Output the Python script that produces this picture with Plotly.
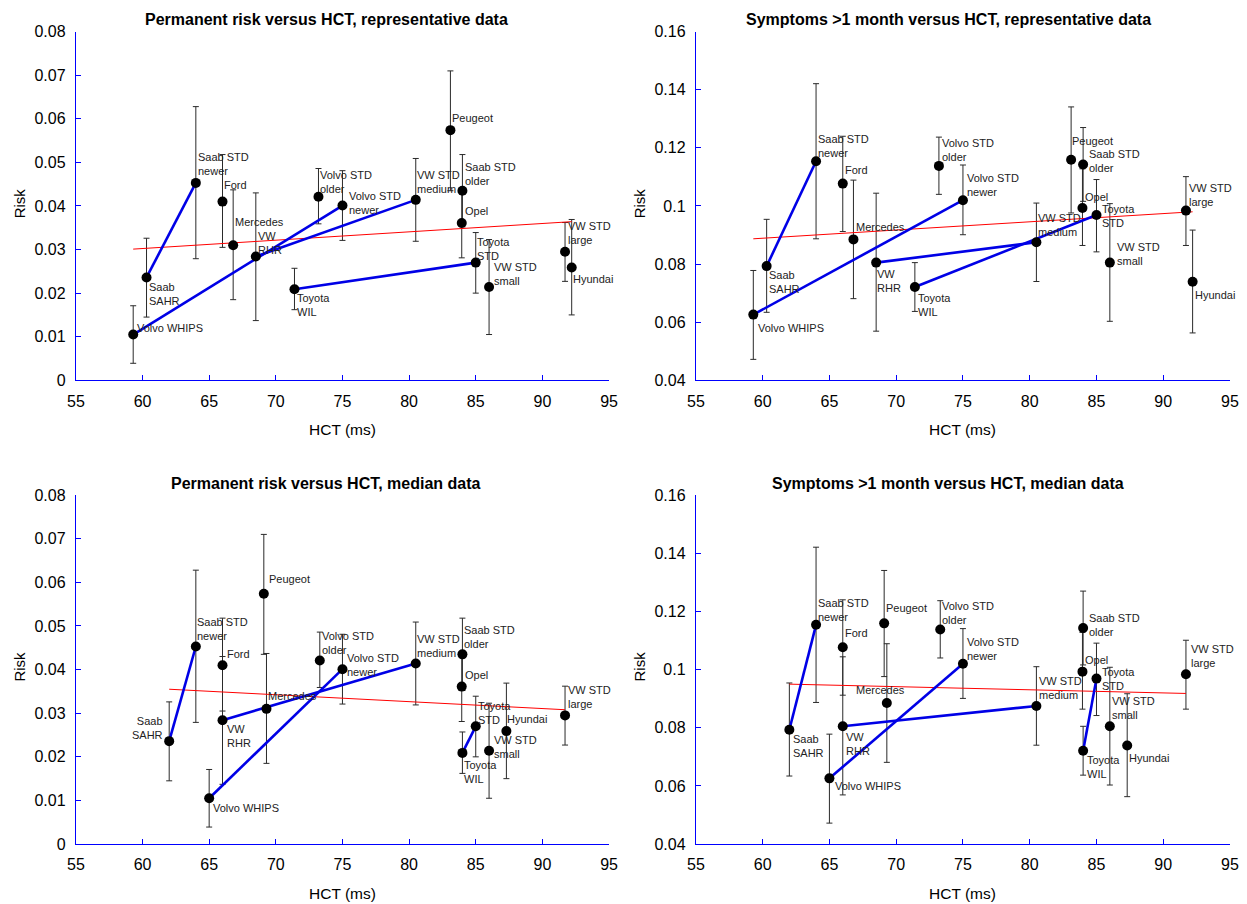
import plotly.graph_objects as go

# ---------------- data ----------------
cars = ["Volvo WHIPS", "Saab SAHR", "Saab STD newer", "Ford", "Mercedes", "VW RHR",
        "Toyota WIL", "Volvo STD older", "Volvo STD newer", "VW STD medium", "Peugeot",
        "Saab STD older", "Opel", "Toyota STD", "VW STD small", "VW STD large", "Hyundai"]
labels = ["Volvo WHIPS", "Saab<br>SAHR", "Saab STD<br>newer", "Ford", "Mercedes", "VW<br>RHR",
          "Toyota<br>WIL", "Volvo STD<br>older", "Volvo STD<br>newer", "VW STD<br>medium", "Peugeot",
          "Saab STD<br>older", "Opel", "Toyota<br>STD", "VW STD<br>small", "VW STD<br>large", "Hyundai"]

hct_rep = [59.3, 60.3, 64.0, 66.0, 66.8, 68.5, 71.4, 73.2, 75.0, 80.5, 83.1, 84.0, 83.95, 85.0, 86.0, 91.7, 92.2]
hct_med = [65.0, 62.0, 64.0, 66.0, 69.3, 66.0, 84.0, 73.3, 75.0, 80.5, 69.1, 84.0, 83.95, 85.0, 86.0, 91.7, 87.3]

perm_risk = [0.0105, 0.0236, 0.0453, 0.0410, 0.0310, 0.0284, 0.0209, 0.0421, 0.0401, 0.0414, 0.0574,
             0.0435, 0.0361, 0.0270, 0.0214, 0.0295, 0.0259]
perm_lo = [0.0039, 0.0145, 0.0279, 0.0305, 0.0185, 0.0137, 0.0162, 0.0359, 0.0321, 0.0319, 0.0435,
           0.0352, 0.0281, 0.0200, 0.0105, 0.0227, 0.0150]
perm_hi = [0.0171, 0.0326, 0.0628, 0.0518, 0.0437, 0.0430, 0.0257, 0.0486, 0.0481, 0.0509, 0.0710,
           0.0518, 0.0441, 0.0339, 0.0323, 0.0362, 0.0369]

sympt_risk = [0.0626, 0.0793, 0.1154, 0.1077, 0.0885, 0.0805, 0.0721, 0.1138, 0.1020, 0.0875, 0.1159,
              0.1143, 0.0993, 0.0969, 0.0805, 0.0984, 0.0739]
sympt_lo = [0.0472, 0.0634, 0.0887, 0.0912, 0.0681, 0.0569, 0.0637, 0.1040, 0.0901, 0.0740, 0.0976,
            0.1016, 0.0864, 0.0842, 0.0603, 0.0864, 0.0563]
sympt_hi = [0.0778, 0.0954, 0.1421, 0.1240, 0.1089, 0.1044, 0.0805, 0.1237, 0.1141, 0.1010, 0.1341,
            0.1270, 0.1128, 0.1091, 0.1008, 0.1101, 0.0917]

pairs = [("Saab SAHR", "Saab STD newer"), ("Volvo WHIPS", "Volvo STD newer"),
         ("VW RHR", "VW STD medium"), ("Toyota WIL", "Toyota STD")]

trend_perm_rep_x = [59.3, 92.2]
trend_perm_rep_y = [0.0301, 0.0364]
trend_sympt_rep_x = [59.3, 92.2]
trend_sympt_rep_y = [0.0887, 0.0980]
trend_perm_med_x = [62.0, 91.7]
trend_perm_med_y = [0.0355, 0.0308]
trend_sympt_med_x = [62.0, 91.7]
trend_sympt_med_y = [0.0950, 0.0918]

x_ticks = [55, 60, 65, 70, 75, 80, 85, 90, 95]
perm_ticks = [0, 0.01, 0.02, 0.03, 0.04, 0.05, 0.06, 0.07, 0.08]
perm_ticktext = ["0", "0.01", "0.02", "0.03", "0.04", "0.05", "0.06", "0.07", "0.08"]
sympt_ticks = [0.04, 0.06, 0.08, 0.10, 0.12, 0.14, 0.16]
sympt_ticktext = ["0.04", "0.06", "0.08", "0.1", "0.12", "0.14", "0.16"]

titles = ["Permanent risk versus HCT, representative data",
          "Symptoms >1 month versus HCT, representative data",
          "Permanent risk versus HCT, median data",
          "Symptoms >1 month versus HCT, median data"]

# ---------------- label placement (pixel offsets: dx, first-line centre dy) ----------------
label_off = [
    [(4, -6), (2.6, 10.6), (2, -24.7), (1.6, -16), (2.3, -21.7), (1.7, -19.7), (3, 9.6), (2, -21),
     (6.6, -9), (1, -24), (1.3, -11.3), (2.3, -23), (3, -11.3), (1.3, -20), (5, -18.6), (2.7, -24.3), (1.3, 12.3)],
    [(4.7, 14), (2.3, 10), (2.3, -21), (2, -12.7), (2.3, -11.7), (1.3, 12.3), (3, 12), (3, -21.7),
     (3.7, -21), (1.7, -23.7), (1, -17.7), (6, -9), (3, -10.3), (5.7, -5.3), (7, -14.7), (3.3, -22), (2, 14.3)],
    [(4, 10.7), (-6.3, -18.7), (1, -23.3), (4, -10), (2, -11.4), (4.7, 9.4), (1.7, 13.3), (1.7, -23),
     (5, -10.3), (1, -24), (5.4, -13.4), (1.4, -23), (3, -11), (2, -19.7), (5, -9.7), (2.7, -24.7), (1, -11.4)],
    [(5.7, 9), (4, 10.7), (2.3, -21), (2, -13), (-31, -11.7), (3.6, 11.7), (3.4, 10.3), (1.7, -22),
     (3.7, -21), (2.3, -23.7), (1.4, -14), (5.4, -9), (3, -10.3), (5.7, -6), (1.7, -24.7), (4.7, -24.3), (2.3, 14)],
]
right_anchor = {(2, "Saab SAHR")}

FONT = "Liberation Sans, Arial, sans-serif"
W, H = 1247, 904
# effective drawing area observed in the browser (page margin of 8 px)
OFF, PW, PH = 8, 1231, 888


def pxx(px):
    return (px - OFF) / PW


def pxy(py):
    return 1 - (py - OFF) / PH


col_x = [(75, 609), (696, 1231)]
row_y = [(31.7, 380.7), (495.7, 845.0)]

panels = [
    dict(hct=hct_rep, risk=perm_risk, lo=perm_lo, hi=perm_hi, tx=trend_perm_rep_x, ty=trend_perm_rep_y,
         rng=[0, 0.08], tv=perm_ticks, tt=perm_ticktext, col=0, row=0),
    dict(hct=hct_rep, risk=sympt_risk, lo=sympt_lo, hi=sympt_hi, tx=trend_sympt_rep_x, ty=trend_sympt_rep_y,
         rng=[0.04, 0.16], tv=sympt_ticks, tt=sympt_ticktext, col=1, row=0),
    dict(hct=hct_med, risk=perm_risk, lo=perm_lo, hi=perm_hi, tx=trend_perm_med_x, ty=trend_perm_med_y,
         rng=[0, 0.08], tv=perm_ticks, tt=perm_ticktext, col=0, row=1),
    dict(hct=hct_med, risk=sympt_risk, lo=sympt_lo, hi=sympt_hi, tx=trend_sympt_med_x, ty=trend_sympt_med_y,
         rng=[0.04, 0.16], tv=sympt_ticks, tt=sympt_ticktext, col=1, row=1),
]

fig = go.Figure()
annotations = []
layout = dict(width=W, height=H, margin=dict(l=0, r=0, t=0, b=0), plot_bgcolor="white",
              paper_bgcolor="white", showlegend=False, font=dict(family=FONT, color="black"))

for i, p in enumerate(panels):
    sfx = "" if i == 0 else str(i + 1)
    xa, ya = "x" + sfx, "y" + sfx
    x0, x1 = col_x[p["col"]]
    y0, y1 = row_y[p["row"]]
    layout["xaxis" + sfx] = dict(domain=[pxx(x0), pxx(x1)], range=[55, 95], tickvals=x_ticks,
                                 showline=True, linecolor="#0000ff", linewidth=1.3, ticks="inside",
                                 ticklen=5, tickcolor="#0000ff", showgrid=False, zeroline=False,
                                 tickfont=dict(size=16, family=FONT), anchor=ya, ticklabelstandoff=6)
    layout["yaxis" + sfx] = dict(domain=[pxy(y1), pxy(y0)], range=p["rng"], tickvals=p["tv"],
                                 ticktext=p["tt"], showline=True, linecolor="#0000ff", linewidth=1.3,
                                 ticks="inside", ticklen=5, tickcolor="#0000ff", showgrid=False,
                                 zeroline=False, tickfont=dict(size=16, family=FONT), anchor=xa,
                                 ticklabelstandoff=6)
    err_plus = [h - r for h, r in zip(p["hi"], p["risk"])]
    err_minus = [r - l for r, l in zip(p["risk"], p["lo"])]
    # error bars
    fig.add_trace(go.Scatter(x=p["hct"], y=p["risk"], mode="markers", xaxis=xa, yaxis=ya,
                             marker=dict(size=1, color="rgba(0,0,0,0)"),
                             error_y=dict(type="data", symmetric=False, array=err_plus,
                                          arrayminus=err_minus, color="#2a2a2a", thickness=1, width=3)))
    # trend line
    fig.add_trace(go.Scatter(x=p["tx"], y=p["ty"], mode="lines", xaxis=xa, yaxis=ya,
                             line=dict(color="#ff0000", width=1)))
    # connecting lines
    for a, b in pairs:
        ia, ib = cars.index(a), cars.index(b)
        fig.add_trace(go.Scatter(x=[p["hct"][ia], p["hct"][ib]], y=[p["risk"][ia], p["risk"][ib]],
                                 mode="lines", xaxis=xa, yaxis=ya,
                                 line=dict(color="#0000e6", width=2.6)))
    # markers
    fig.add_trace(go.Scatter(x=p["hct"], y=p["risk"], mode="markers", xaxis=xa, yaxis=ya,
                             marker=dict(size=10, color="black")))
    # point labels
    for k, name in enumerate(cars):
        dx, dc = label_off[i][k]
        ra = (i, name) in right_anchor
        annotations.append(dict(x=p["hct"][k], y=p["risk"][k], xref=xa, yref=ya, text=labels[k],
                                showarrow=False, xanchor="right" if ra else "left", yanchor="top",
                                align="right" if ra else "left", xshift=dx, yshift=7 - dc,
                                borderpad=0, borderwidth=0,
                                font=dict(size=11, family=FONT, color="#222222")))
    # title
    cx = [326, 949][p["col"]] if p["row"] == 0 else [325.5, 948.5][p["col"]]
    cy = [20, 484][p["row"]]
    annotations.append(dict(x=pxx(cx), y=pxy(cy), xref="paper", yref="paper", text="<b>" + titles[i] + "</b>",
                            showarrow=False, xanchor="center", yanchor="middle",
                            font=dict(size=16, family=FONT, color="black")))
    # axis titles
    annotations.append(dict(x=pxx([18.3, 639.3][p["col"]]), y=pxy([203.3, 667][p["row"]]), xref="paper",
                            yref="paper", text="Risk", textangle=-90, showarrow=False, xanchor="center",
                            yanchor="middle", font=dict(size=15, family=FONT, color="black")))
    annotations.append(dict(x=pxx([342, 963.5][p["col"]]), y=pxy(y1 + 49.5), xref="paper", yref="paper",
                            text="HCT (ms)", showarrow=False, xanchor="center", yanchor="middle",
                            font=dict(size=15.5, family=FONT, color="black")))

layout["annotations"] = annotations
fig.update_layout(**layout)

fig.write_html("out.html", config={"displayModeBar": False},
               post_script="document.body.style.margin='0';document.body.style.overflow='hidden';")
